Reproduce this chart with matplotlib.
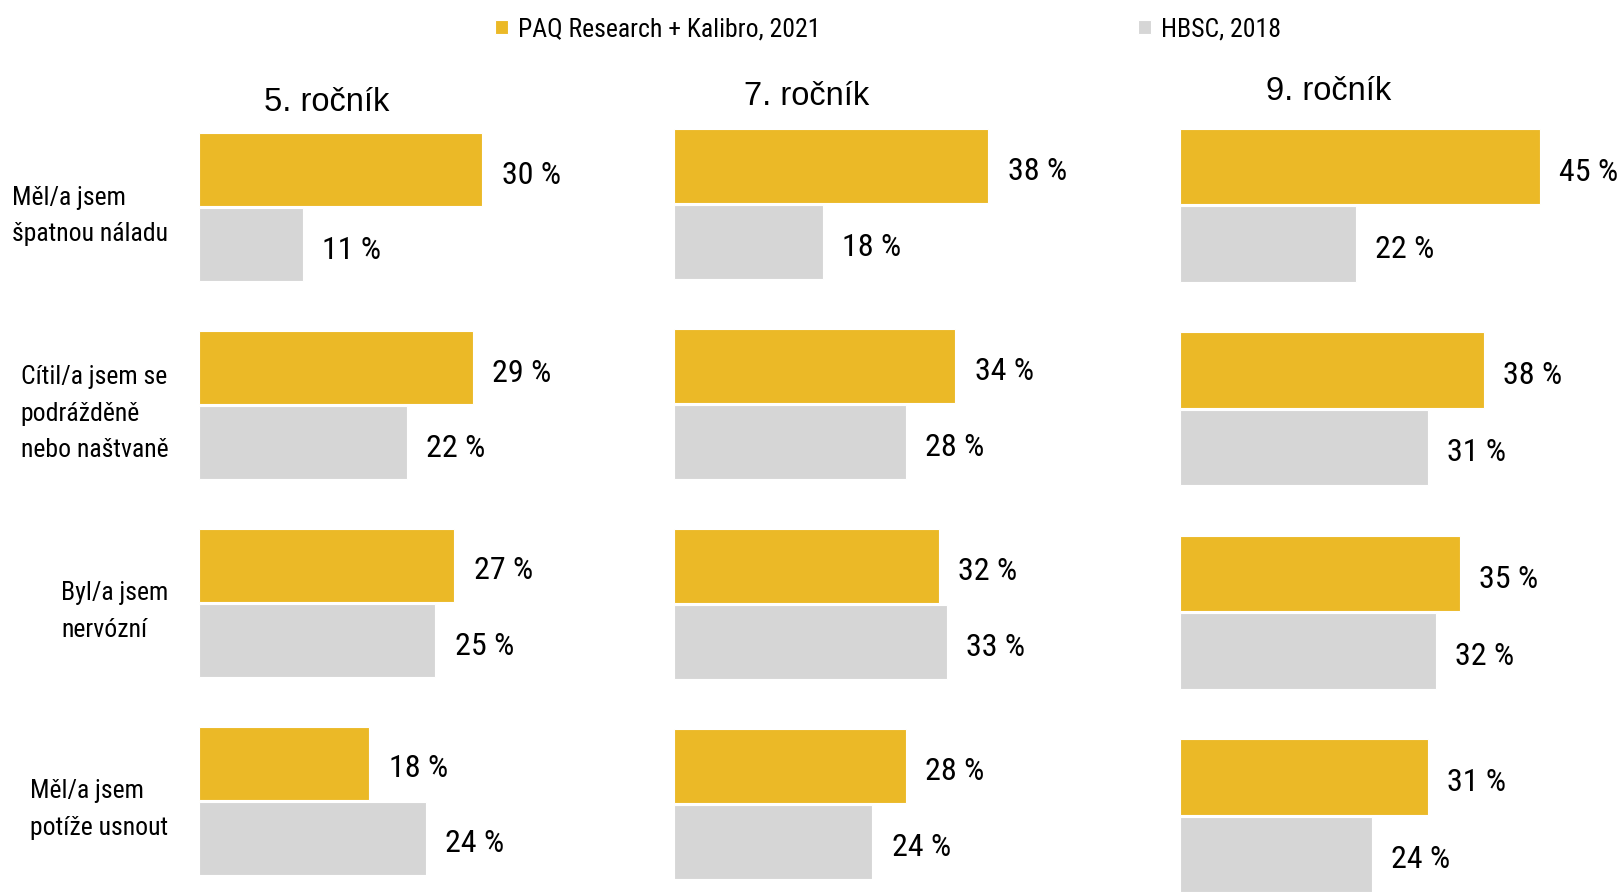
import matplotlib.pyplot as plt
from matplotlib import font_manager as fm
import numpy as np

# data
categories = ["Měl/a jsem\nšpatnou náladu",
              "Cítil/a jsem se\npodrážděně\nnebo naštvaně",
              "Byl/a jsem\nnervózní",
              "Měl/a jsem\npotíže usnout"]
grades = ["5. ročník", "7. ročník", "9. ročník"]
paq = [[30, 29, 27, 18],
       [38, 34, 32, 28],
       [45, 38, 35, 31]]
hbsc = [[11, 22, 25, 24],
        [18, 28, 33, 24],
        [22, 31, 32, 24]]
series = ["PAQ Research + Kalibro, 2021", "HBSC, 2018"]

YELLOW = "#EBB927"
GREY = "#D6D6D6"

# condensed faces to try, with sizes for (category labels, values, legend)
candidates = [
    ("NotoSans-ExtraCondensed.ttf", 21, 26, 20.5),
    ("RobotoCondensed-Regular.ttf", 18.5, 23, 18.5),
    ("NotoSans-Condensed.ttf", 18.5, 23, 18.5),
    ("LiberationSansNarrow-Regular.ttf", 18.5, 23, 18.5),
    ("DejaVuSansCondensed.ttf", 16, 20, 17),
]
files = {f.fname.split("/")[-1]: f.fname for f in fm.fontManager.ttflist}
narrow, sizes = fm.FontProperties(family="DejaVu Sans"), (15, 18, 16)
for name, *s in candidates:
    if name in files:
        narrow, sizes = fm.FontProperties(fname=files[name]), s
        break
regular = (fm.FontProperties(fname=files["LiberationSans-Regular.ttf"])
           if "LiberationSans-Regular.ttf" in files else fm.FontProperties(family="DejaVu Sans"))
label_size, value_size, legend_size = sizes


def fp(base, size):
    p = base.copy()
    p.set_size(size)
    return p


W, H = 1622, 892
fig = plt.figure(figsize=(W / 100, H / 100), dpi=100)

# panel layout in pixels: left, top, bottom, px per percent, width, title x, title baseline
panels = [
    (199, 133, 875, 9.45, 300, 327, 111),
    (674, 129, 879, 8.27, 380, 807, 105),
    (1180, 129, 892, 8.00, 442, 1329, 100),
]

y = np.arange(len(categories))
h = 0.37

for i, (left, top, bottom, ppp, width, tx, ty) in enumerate(panels):
    ax = fig.add_axes([left / W, 1 - bottom / H, width / W, (bottom - top) / H])
    b1 = ax.barh(y - 0.19, paq[i], height=h, color=YELLOW, edgecolor="white", linewidth=0.8)
    b2 = ax.barh(y + 0.19, hbsc[i], height=h, color=GREY, edgecolor="white", linewidth=0.8)
    ax.set_xlim(0, width / ppp)
    ax.set_ylim(len(categories) - 1 + 0.375, -0.375)
    for s in ax.spines.values():
        s.set_visible(False)
    ax.set_xticks([])
    ax.set_yticks([])
    if i == 0:
        ax.set_yticks(y, categories)
        ax.tick_params(axis="y", length=0, pad=22)
        for lbl in ax.get_yticklabels():
            lbl.set_fontproperties(fp(narrow, label_size))
            lbl.set_multialignment("left")
            lbl.set_linespacing(1.66)
        handles = (b1, b2)
    for bars, vals in ((b1, paq[i]), (b2, hbsc[i])):
        for rect, v in zip(bars, vals):
            ax.annotate(f"{v} %", xy=(v, rect.get_y() + rect.get_height() / 2),
                        xytext=(14, -4), textcoords="offset points",
                        ha="left", va="center", fontproperties=fp(narrow, value_size))
    fig.text(tx / W, 1 - ty / H, grades[i], ha="center", va="baseline",
             fontproperties=fp(regular, 23.5))

# legend entries placed separately, as in the original
for handle, label, lx in zip(handles, series, (495, 1138)):
    fig.legend([handle], [label], loc="center left", bbox_to_anchor=(lx / W, 1 - 29 / H),
               frameon=False, handlelength=0.5, handleheight=0.5, handletextpad=0.4,
               borderpad=0, borderaxespad=0, prop=fp(narrow, legend_size))

fig.savefig("out.png", dpi=100)
